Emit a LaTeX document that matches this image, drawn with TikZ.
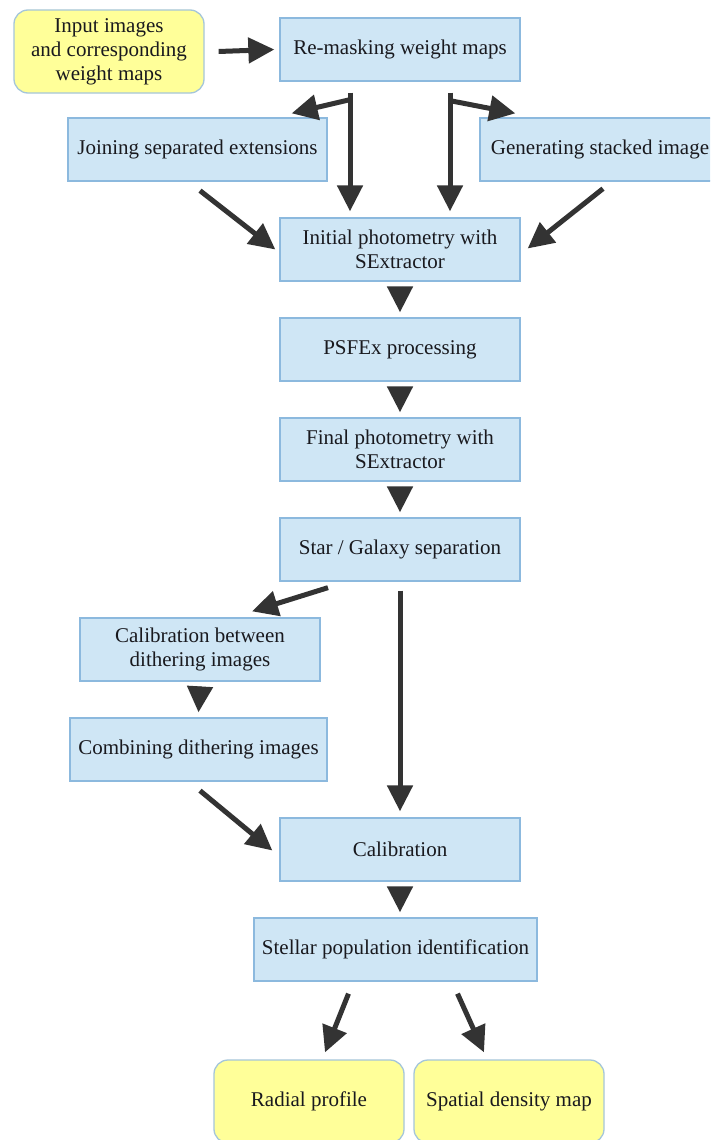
\documentclass[tikz,border=0pt]{standalone}
\usepackage{fontspec}
\setmainfont{Liberation Serif}
\usepackage{tikz}
\usetikzlibrary{arrows.meta, positioning}
\definecolor{boxblue}{RGB}{207,230,245}
\definecolor{edgeblue}{RGB}{140,185,222}
\definecolor{boxyellow}{RGB}{255,255,153}
\definecolor{edgegrey}{RGB}{165,198,218}
\definecolor{arrowdark}{RGB}{51,51,51}
\definecolor{textdark}{RGB}{25,25,30}
\tikzset{
  stepbox/.style={rectangle, draw=edgeblue, fill=boxblue, align=center,
    minimum width=240pt, minimum height=63pt, inner sep=2pt, text=textdark,
    font=\fontsize{21}{24}\selectfont, line width=1.3pt},
  endbox/.style={rectangle, draw=edgegrey, fill=boxyellow, align=center,
    minimum width=190pt, minimum height=83pt, inner sep=2pt, text=textdark,
    font=\fontsize{21}{24}\selectfont, rounded corners=14pt, line width=1.3pt},
  arrow/.style={-{Triangle[length=26pt,width=25pt]}, line width=5pt, color=arrowdark},
  line/.style={line width=5pt, color=arrowdark}
}
\begin{document}
\begin{tikzpicture}[x=1pt,y=-1pt]
  \clip (0,0) rectangle (710,1140);
  \fill[white] (0,0) rectangle (710,1140);

  % Boxes of the pipeline
  \node[endbox] (input) at (109,51.5) {Input images\\and corresponding\\weight maps};
  \node[stepbox] (remask) at (400,49.5) {Re-masking weight maps};
  \node[stepbox, minimum width=259pt] (join) at (197.5,149.5) {Joining separated extensions};
  \node[stepbox] (stack) at (600,149.5) {Generating stacked image};
  \node[stepbox] (initphot) at (400,249.5) {Initial photometry with\\SExtractor};
  \node[stepbox] (psfex) at (400,349.5) {PSFEx processing};
  \node[stepbox] (finphot) at (400,449.5) {Final photometry with\\SExtractor};
  \node[stepbox] (stargal) at (400,549.5) {Star / Galaxy separation};
  \node[stepbox] (calbetw) at (200,649.5) {Calibration between\\dithering images};
  \node[stepbox, minimum width=257pt] (combine) at (198.5,749.5) {Combining dithering images};
  \node[stepbox] (calib) at (400,849.5) {Calibration};
  \node[stepbox, minimum width=283pt] (stelpop) at (395.5,949.5) {Stellar population identification};
  \node[endbox] (radial) at (309,1101.5) {Radial profile};
  \node[endbox] (density) at (509,1101.5) {Spatial density map};

  % Branch points under the re-masking box
  \coordinate (bl) at ([xshift=-50pt,yshift=-18pt]remask.south);
  \coordinate (br) at ([xshift=50pt,yshift=-19pt]remask.south);

  % Connectors
  \draw[arrow] ([xshift=14pt]input.east) -- ([xshift=-5pt]remask.west);
  \draw[arrow] ([xshift=-50pt,yshift=-11pt]remask.south) -- ([xshift=-50pt,yshift=6pt]initphot.north);
  \draw[arrow] ([xshift=50pt,yshift=-11pt]remask.south) -- ([xshift=50pt,yshift=6pt]initphot.north);
  \draw[arrow] (bl) -- ([xshift=-36pt,yshift=4pt]join.north east);
  \draw[arrow] (br) -- ([xshift=36pt,yshift=4pt]stack.north west);
  \draw[arrow] ([xshift=2.5pt,yshift=-9pt]join.south) -- ([xshift=-4pt]initphot.west);
  \draw[arrow] ([xshift=3pt,yshift=-7pt]stack.south) -- ([xshift=7pt,yshift=1pt]initphot.east);
  \draw[arrow] ([yshift=-5pt]initphot.south) -- ([yshift=5pt]psfex.north);
  \draw[arrow] ([yshift=-5pt]psfex.south) -- ([yshift=5pt]finphot.north);
  \draw[arrow] ([yshift=-5pt]finphot.south) -- ([yshift=5pt]stargal.north);
  \draw[arrow] ([xshift=-72pt,yshift=-6pt]stargal.south) -- ([xshift=52pt,yshift=6pt]calbetw.north);
  \draw[arrow] ([yshift=-9pt]stargal.south) -- ([yshift=6pt]calib.north);
  \draw[arrow] ([yshift=-5pt]calbetw.south) -- ([yshift=5pt]combine.north);
  \draw[arrow] ([xshift=1.5pt,yshift=-9pt]combine.south) -- ([xshift=-7pt,yshift=-1pt]calib.west);
  \draw[arrow] ([yshift=-5pt]calib.south) -- ([yshift=5pt]calib.south |- stelpop.north);
  \draw[arrow] ([xshift=-47pt,yshift=-12pt]stelpop.south) -- ([xshift=16pt,yshift=7pt]radial.north);
  \draw[arrow] ([xshift=62pt,yshift=-12pt]stelpop.south) -- ([xshift=-25pt,yshift=7pt]density.north);
\end{tikzpicture}
\end{document}
